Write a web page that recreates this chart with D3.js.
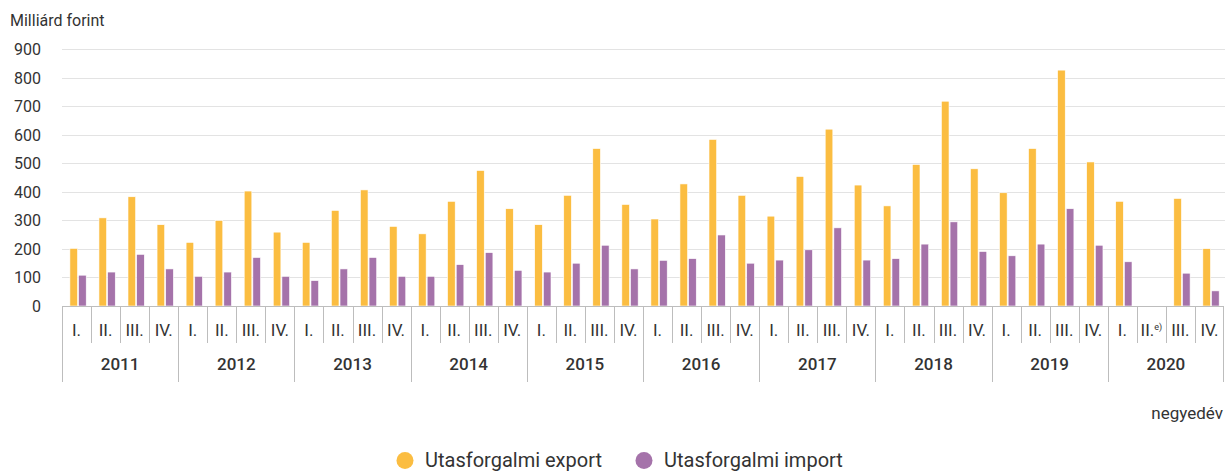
<!DOCTYPE html>
<html>
<head>
<meta charset="utf-8">
<script src="https://cdn.jsdelivr.net/npm/d3@7"></script>
<style>
  body { margin: 0; background: #fff; }
  svg { display: block; font-family: Roboto, "Open Sans", sans-serif; }
</style>
</head>
<body>
<script>
var years = ["2011", "2012", "2013", "2014", "2015", "2016", "2017", "2018", "2019", "2020"];
var quarters = ["I.", "II.", "III.", "IV."];
var seriesNames = ["Utasforgalmi export", "Utasforgalmi import"];
var exportValues = [202, 309, 383, 285, 223, 300, 403, 259, 223, 335, 407, 279,
                    253, 367, 475, 341, 285, 388, 552, 356, 305, 428, 584, 388,
                    315, 454, 620, 424, 351, 496, 718, 481, 397, 552, 827, 505,
                    367, null, 377, 201];
var importValues = [108, 119, 181, 130, 104, 119, 170, 104, 89, 130, 170, 104,
                    104, 145, 187, 125, 119, 150, 213, 130, 160, 166, 249, 150,
                    161, 197, 274, 161, 166, 217, 295, 191, 176, 217, 341, 213,
                    155, null, 115, 53];
var yTicks = [0, 100, 200, 300, 400, 500, 600, 700, 800, 900];
var colors = ["#fbbd41", "#a573aa"];

var W = 1225, H = 472;
var plotLeft = 62, plotRight = 1224, plotTop = 49.3, base = 306;

var cats = [];
years.forEach(function (yr) {
  quarters.forEach(function (q) { cats.push(yr + " " + q); });
});

var svg = d3.select("body").append("svg")
  .attr("width", W)
  .attr("height", H);

var x = d3.scaleBand().domain(cats).range([plotLeft, plotRight]);
var xs = d3.scaleBand().domain([0, 1]).range([7.9, 24.2]).paddingInner(0.12);
var y = d3.scaleLinear().domain([0, 900]).range([base, plotTop]);

// gridlines
svg.append("g").selectAll("line")
  .data(yTicks.filter(function (d) { return d > 0; }))
  .enter().append("line")
  .attr("x1", plotLeft).attr("x2", W)
  .attr("y1", function (d) { return Math.round(y(d)) + 0.5; })
  .attr("y2", function (d) { return Math.round(y(d)) + 0.5; })
  .attr("stroke", "#e3e3e3")
  .attr("stroke-width", 1);

// y labels
svg.append("g").selectAll("text")
  .data(yTicks)
  .enter().append("text")
  .attr("x", 41)
  .attr("y", function (d) { return y(d) + 6; })
  .attr("text-anchor", "end")
  .attr("font-size", 16)
  .attr("fill", "#333")
  .text(function (d) { return d; });

svg.append("text")
  .attr("x", 10).attr("y", 26)
  .attr("font-size", 16)
  .attr("fill", "#333")
  .text("Milliárd forint");

// bars
[exportValues, importValues].forEach(function (vals, s) {
  var pts = vals.map(function (v, i) { return { v: v, c: cats[i] }; })
    .filter(function (d) { return d.v !== null; });
  svg.append("g").selectAll("rect")
    .data(pts)
    .enter().append("rect")
    .attr("x", function (d) { return x(d.c) + xs(s); })
    .attr("y", function (d) { return y(d.v); })
    .attr("width", xs.bandwidth())
    .attr("height", function (d) { return base - y(d.v); })
    .attr("fill", colors[s])
    .attr("stroke", "#fff")
    .attr("stroke-width", 0.6);
});

// x axis baseline
svg.append("line")
  .attr("x1", plotLeft).attr("x2", plotRight)
  .attr("y1", base + 0.5).attr("y2", base + 0.5)
  .attr("stroke", "#bdbdbd");

// quarter dividers and labels
var qg = svg.append("g");
cats.forEach(function (c, i) {
  var x0 = Math.round(x(c)) + 0.5;
  var isYear = i % 4 === 0;
  qg.append("line")
    .attr("x1", x0).attr("x2", x0)
    .attr("y1", base).attr("y2", isYear ? 382 : 343)
    .attr("stroke", "#bdbdbd");
  var t = qg.append("text")
    .attr("x", x(c) + x.bandwidth() / 2)
    .attr("y", 336)
    .attr("text-anchor", "middle")
    .attr("font-size", 17)
    .attr("fill", "#333");
  t.append("tspan").text(quarters[i % 4]);
  if (c === "2020 II.") {
    t.append("tspan").attr("font-size", 9).attr("dy", -6).text("e)");
  }
});
qg.append("line")
  .attr("x1", plotRight - 0.5).attr("x2", plotRight - 0.5)
  .attr("y1", base).attr("y2", 382)
  .attr("stroke", "#bdbdbd");

// year labels
svg.append("g").selectAll("text")
  .data(years)
  .enter().append("text")
  .attr("x", function (d) { return x(d + " II.") + x.bandwidth(); })
  .attr("y", 370)
  .attr("text-anchor", "middle")
  .attr("font-size", 17)
  .attr("font-weight", 500)
  .attr("fill", "#333")
  .text(function (d) { return d; });

svg.append("text")
  .attr("x", 1223).attr("y", 419)
  .attr("text-anchor", "end")
  .attr("font-size", 17)
  .attr("fill", "#333")
  .text("negyedév");

// legend
var lx = [405, 644];
var lg = svg.append("g");
seriesNames.forEach(function (n, i) {
  lg.append("circle")
    .attr("cx", lx[i]).attr("cy", 460.5)
    .attr("r", 8.5)
    .attr("fill", colors[i]);
  lg.append("text")
    .attr("x", lx[i] + 20).attr("y", 467)
    .attr("font-size", 20)
    .attr("fill", "#333")
    .text(n);
});
</script>
</body>
</html>
